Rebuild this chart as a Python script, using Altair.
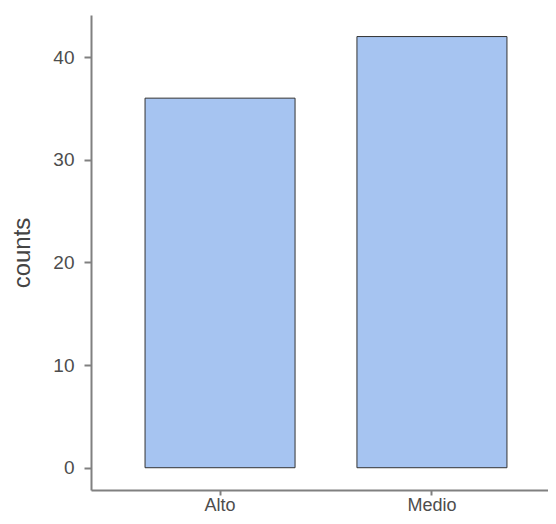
import altair as alt
import pandas as pd

categories = ["Alto", "Medio"]
counts = [36, 42]

df = pd.DataFrame({"cat": categories, "counts": counts})

axis_common = dict(
    domainColor="#808080", domainWidth=2, tickColor="#808080", tickWidth=2,
    labelColor="#4d4d4d", labelFont="Liberation Sans", labelFontSize=19,
    titleFont="Liberation Sans", titleColor="#444444", grid=False,
)

chart = alt.Chart(df).mark_bar(
    fill="#a6c4f1", stroke="#333333", strokeWidth=1
).encode(
    x=alt.X("cat:N", title=None, sort=categories,
            scale=alt.Scale(paddingInner=0.292, paddingOuter=0.255, range=[0, 470]),
            axis=alt.Axis(labelAngle=0, tickSize=5, labelPadding=1, labelFontSize=18,
                          **{k: v for k, v in axis_common.items() if k != "labelFontSize"})),
    y=alt.Y("counts:Q", title="counts",
            scale=alt.Scale(domain=[-2.17, 44.1], nice=False, zero=False),
            axis=alt.Axis(values=[0, 10, 20, 30, 40], tickSize=7, labelPadding=10,
                          titleFontSize=24, titleFontWeight="normal", titlePadding=18,
                          **axis_common)),
).properties(
    width=457, height=475,
    autosize=alt.AutoSizeParams(type="none"),
    padding={"left": 83, "top": 7, "right": 0, "bottom": 26},
).configure_view(stroke=None)

chart.save("out.html", embed_options={"renderer": "svg", "actions": False})
